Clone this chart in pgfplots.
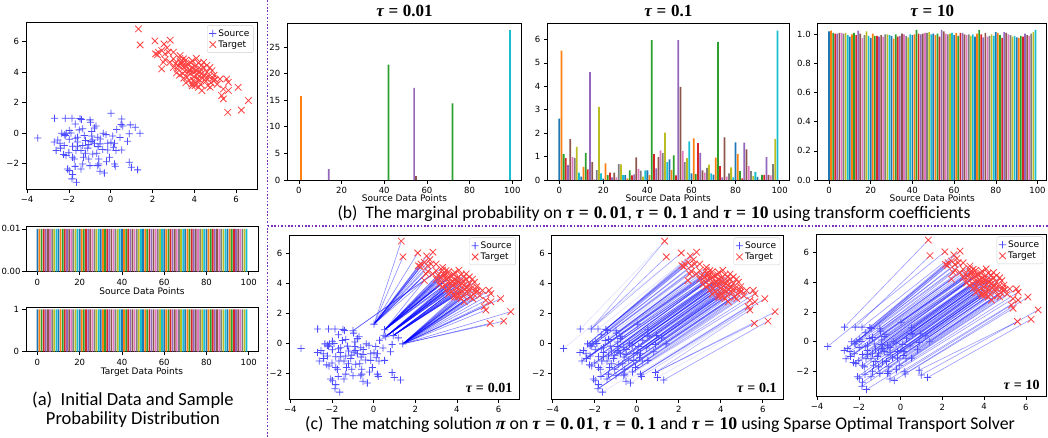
\documentclass[border=0pt]{standalone}
\usepackage{fontspec}
\setmainfont{DejaVu Sans}
\newfontfamily\capfont{Carlito}
\newfontfamily\serif{Liberation Serif}
\usepackage{pgfplots}
\usepackage{pgfplotstable}
\pgfplotsset{compat=1.18}

% matplotlib tab10
\definecolor{t0}{HTML}{1F77B4}
\definecolor{t1}{HTML}{FF7F0E}
\definecolor{t2}{HTML}{2CA02C}
\definecolor{t3}{HTML}{D62728}
\definecolor{t4}{HTML}{9467BD}
\definecolor{t5}{HTML}{8C564B}
\definecolor{t6}{HTML}{E377C2}
\definecolor{t7}{HTML}{7F7F7F}
\definecolor{t8}{HTML}{BCBD22}
\definecolor{t9}{HTML}{17BECF}
\definecolor{dotline}{HTML}{7B2FBE}
\definecolor{srcblue}{HTML}{4D4DFF}
\definecolor{tgtred}{HTML}{FF4040}

% filled plus / cross marks (two thin bars)
\pgfdeclareplotmark{fplus}{%
  \pgfpathrectangle{\pgfpoint{-\pgfplotmarksize}{-0.4pt}}{\pgfpoint{2\pgfplotmarksize}{0.8pt}}%
  \pgfpathrectangle{\pgfpoint{-0.4pt}{-\pgfplotmarksize}}{\pgfpoint{0.8pt}{2\pgfplotmarksize}}%
  \pgfusepathqfill}
\pgfdeclareplotmark{fcross}{%
  \pgftransformrotate{45}%
  \pgfpathrectangle{\pgfpoint{-\pgfplotmarksize}{-0.4pt}}{\pgfpoint{2\pgfplotmarksize}{0.8pt}}%
  \pgfpathrectangle{\pgfpoint{-0.4pt}{-\pgfplotmarksize}}{\pgfpoint{0.8pt}{2\pgfplotmarksize}}%
  \pgfusepathqfill}

\newcommand{\tk}{\fontsize{8.5}{10}\selectfont}
\newcommand{\lb}{\fontsize{9}{10}\selectfont}
\newcommand{\tq}[1]{{\serif\bfseries\itshape τ}\hspace{0.28em}{\serif\bfseries =}\hspace{0.28em}{\serif\bfseries #1}}

\pgfplotsset{
  pane/.style={scale only axis, anchor=south west,
    axis line style={line width=0.6pt}, tick align=outside,
    xtick pos=bottom, ytick pos=left, major tick length=3.5pt,
    tick style={black, line width=0.6pt},
    tick label style={font=\tk}, label style={font=\lb},
    scaled ticks=false},
  barx/.style={pane, xmin=-5.4, xmax=104.4, ymin=0,
    xtick={0,20,...,100}, xticklabels={0,20,40,60,80,100}},
  bars/.style={ybar, bar width=0.8, bar shift=0pt, draw=none},
  sc/.style={pane, xmin=-4.05, xmax=7.0, ymin=-3.72, ymax=7.25,
    xtick={-4,-2,...,6}, xticklabels={−4,−2,0,2,4,6},
    ytick={-2,0,...,6}, yticklabels={−2,0,2,4,6},
    legend cell align=left,
    legend style={at={(0.985,0.985)}, anchor=north east, draw=black!18,
      rounded corners=2pt, font=\lb, inner sep=2pt, row sep=-1pt}},
  src/.style={only marks, mark=fplus, mark size=3.6pt, color=srcblue,
    mark options={fill=srcblue, draw=none}},
  tgt/.style={only marks, mark=fcross, mark size=4.6pt, color=tgtred,
    mark options={fill=tgtred, draw=none}},
  link/.style={draw=blue, line width=0.6pt, opacity=#1, forget plot},
}

% one bar series per colour: column ck holds index 10j+k
\newcommand{\tenbars}[1]{%
  \addplot[bars,fill=t0] table[x expr=10*\thisrow{j},y=c0]{#1};
  \addplot[bars,fill=t1] table[x expr=10*\thisrow{j}+1,y=c1]{#1};
  \addplot[bars,fill=t2] table[x expr=10*\thisrow{j}+2,y=c2]{#1};
  \addplot[bars,fill=t3] table[x expr=10*\thisrow{j}+3,y=c3]{#1};
  \addplot[bars,fill=t4] table[x expr=10*\thisrow{j}+4,y=c4]{#1};
  \addplot[bars,fill=t5] table[x expr=10*\thisrow{j}+5,y=c5]{#1};
  \addplot[bars,fill=t6] table[x expr=10*\thisrow{j}+6,y=c6]{#1};
  \addplot[bars,fill=t7] table[x expr=10*\thisrow{j}+7,y=c7]{#1};
  \addplot[bars,fill=t8] table[x expr=10*\thisrow{j}+8,y=c8]{#1};
  \addplot[bars,fill=t9] table[x expr=10*\thisrow{j}+9,y=c9]{#1};
}

\begin{document}

% target point (tx,ty); its tau=10 partner (ax,ay); tau=0.01 source (bx,by); tau=0.1 main source (cx,cy)
\pgfplotstableread{
tx ty ax ay bx by cx cy
1.33 6.84 -2.69 0.97 0.02 1.30 -2.17 0.97
1.41 5.79 -2.17 0.97 0.02 1.30 -2.17 0.97
2.12 6.05 -3.49 -0.33 0.02 1.30 -2.17 0.97
2.55 5.85 -1.85 0.97 0.02 1.30 -1.47 0.95
2.85 6.10 -1.47 0.95 0.02 1.30 -1.47 0.95
2.28 5.31 -1.40 0.88 0.02 1.30 -1.47 0.95
2.15 5.20 -1.69 0.59 0.02 1.30 -2.34 -0.02
2.44 5.42 -2.34 -0.02 0.02 1.30 -2.34 -0.02
2.70 5.60 -1.98 0.16 0.02 1.30 -2.34 -0.02
2.24 5.13 -2.12 -0.02 0.02 1.30 -2.22 -0.11
2.60 5.20 -2.22 -0.11 0.02 1.30 -2.22 -0.11
2.76 5.31 -2.70 -0.60 0.02 1.30 -2.22 -0.11
3.00 5.31 -2.53 -0.46 0.02 1.30 -2.17 -0.17
2.60 4.82 -2.17 -0.17 0.02 1.30 -2.17 -0.17
2.52 4.65 -0.99 0.86 0.02 1.30 -2.17 -0.17
3.00 4.87 -1.90 0.00 0.02 1.30 -0.96 0.70
3.32 5.09 -0.96 0.70 -0.99 0.86 -0.96 0.70
2.84 4.65 -1.50 0.20 -0.99 0.86 -0.96 0.70
2.44 4.21 -2.42 -0.68 0.53 0.92 -1.34 0.27
3.30 4.90 -1.34 0.27 0.53 0.92 -1.34 0.27
3.10 4.55 -1.98 -0.41 0.53 0.92 -1.34 0.27
3.48 4.87 0.02 1.30 0.53 0.92 -2.61 -1.16
3.40 4.76 -2.61 -1.16 0.53 0.92 -2.61 -1.16
3.35 4.65 -1.69 -0.35 0.53 0.92 -2.61 -1.16
3.00 4.30 -2.22 -0.83 0.53 0.92 -2.40 -1.00
3.60 4.80 -2.40 -1.00 0.53 0.92 -2.40 -1.00
3.40 4.60 -1.58 -0.28 0.53 0.92 -2.40 -1.00
3.24 4.43 -0.70 0.46 0.53 0.92 -0.78 0.33
3.20 4.20 -0.78 0.33 0.53 0.92 -0.78 0.33
3.45 4.40 -1.26 -0.17 0.53 0.92 -0.78 0.33
3.90 4.75 -0.90 0.10 0.53 0.92 -1.60 -0.60
4.10 4.90 -1.60 -0.60 0.53 0.92 -1.60 -0.60
3.60 4.45 -1.82 -0.88 0.53 0.92 -1.60 -0.60
3.70 4.50 -2.25 -1.42 0.53 0.92 -0.90 -0.20
3.50 4.30 -0.90 -0.20 0.53 0.92 -0.90 -0.20
3.85 4.60 -1.20 -0.50 0.53 0.92 -0.90 -0.20
3.15 3.95 -1.58 -0.88 0.53 0.92 -2.00 -1.30
3.55 4.05 -2.00 -1.30 0.53 0.92 -2.00 -1.30
3.30 3.80 0.53 0.92 0.53 0.92 -2.00 -1.30
4.20 4.60 -2.14 -1.49 0.53 0.92 -1.34 -0.83
3.90 4.30 -1.34 -0.83 0.58 0.46 -1.34 -0.83
3.45 3.90 -1.66 -1.16 0.58 0.46 -1.34 -0.83
3.75 4.15 -0.86 -0.46 0.58 0.46 -0.35 -0.02
4.05 4.40 -0.35 -0.02 0.58 0.46 -0.35 -0.02
3.80 4.10 -0.62 -0.28 0.58 0.46 -0.35 -0.02
3.70 4.00 -0.94 -0.57 0.58 0.46 -1.05 -0.77
4.45 4.65 -1.05 -0.77 0.58 0.46 -1.05 -0.77
4.00 4.20 -1.42 -1.16 0.58 0.46 -1.05 -0.77
4.35 4.45 0.50 0.55 0.58 0.46 -0.22 -0.11
3.80 3.90 -0.22 -0.11 0.58 0.46 -0.22 -0.11
3.50 3.60 -0.50 -0.40 0.58 0.46 -0.22 -0.11
3.95 4.00 -1.82 -1.60 0.58 0.46 -0.78 -0.68
4.10 4.10 -0.78 -0.68 0.58 0.46 -0.78 -0.68
3.65 3.65 -1.10 -1.00 0.58 0.46 -0.78 -0.68
4.30 4.20 0.29 0.22 0.58 0.46 0.58 0.46
4.60 4.45 0.58 0.46 0.58 0.46 0.58 0.46
4.45 4.30 -1.74 -1.71 0.58 0.46 0.58 0.46
4.25 4.00 -1.21 -1.34 0.29 0.22 -0.51 -0.72
4.15 3.85 -0.51 -0.72 0.94 0.53 -0.51 -0.72
4.00 3.70 0.10 -0.20 0.94 0.53 -0.51 -0.72
3.75 3.45 0.94 0.53 0.94 0.53 -0.60 -0.90
3.60 3.30 -0.60 -0.90 0.94 0.53 -0.60 -0.90
4.75 4.30 -1.30 -1.60 0.94 0.53 -0.60 -0.90
4.35 3.90 -2.06 -2.37 0.94 0.53 -0.14 -0.68
3.95 3.45 -0.14 -0.68 0.94 0.53 -0.14 -0.68
4.60 4.00 -0.86 -1.38 0.94 0.53 -0.14 -0.68
4.15 3.55 0.02 -0.61 0.94 0.53 -1.70 -2.20
4.50 3.80 -1.70 -2.20 0.94 0.53 -1.70 -2.20
4.85 4.10 1.18 0.38 0.94 0.53 -1.70 -2.20
3.88 3.22 -1.98 -2.48 0.94 0.53 0.45 -0.30
4.25 3.50 0.45 -0.30 0.94 0.53 0.45 -0.30
4.05 3.30 -0.67 -1.34 0.94 0.53 0.45 -0.30
4.40 3.60 -0.38 -1.09 1.40 -0.02 -1.05 -1.71
3.90 3.10 -1.05 -1.71 1.40 -0.02 -1.05 -1.71
4.55 3.60 -1.34 -2.04 1.40 -0.02 -1.05 -1.71
4.70 3.70 0.18 -0.68 1.40 -0.02 0.89 -0.06
4.04 3.11 0.89 -0.06 1.40 -0.02 0.89 -0.06
4.95 3.80 -0.14 -1.12 1.40 -0.02 0.89 -0.06
4.30 3.20 0.13 -0.94 1.40 -0.02 -1.42 -2.37
4.55 3.40 -1.42 -2.37 1.40 -0.02 -1.42 -2.37
4.20 3.00 -1.82 -2.74 1.40 -0.02 -1.42 -2.37
4.90 3.60 -0.57 -1.71 1.40 -0.02 -0.99 -2.15
4.92 3.44 -0.99 -2.15 1.40 -0.02 -0.99 -2.15
5.00 3.50 1.40 -0.02 1.40 -0.02 -0.99 -2.15
4.80 3.30 0.81 -0.55 1.40 -0.02 -1.85 -3.02
4.65 3.10 -1.85 -3.02 1.40 -0.02 -1.85 -3.02
4.36 2.79 0.26 -1.16 1.40 -0.02 -1.85 -3.02
5.23 3.55 -0.57 -2.04 1.40 -0.02 -0.06 -1.60
4.76 3.00 -0.06 -1.60 1.40 -0.02 -0.06 -1.60
5.10 3.20 -0.62 -2.15 1.40 -0.02 -0.06 -1.60
5.55 3.55 0.53 -1.12 1.40 -0.02 -0.20 -1.90
5.63 3.33 -0.20 -1.90 1.40 -0.02 -0.20 -1.90
5.39 2.89 -1.63 -3.24 1.40 -0.02 -0.20 -1.90
5.63 2.79 -0.51 -2.52 1.40 -0.02 0.18 -2.04
5.31 2.46 0.18 -2.04 1.40 -0.02 0.18 -2.04
6.10 3.00 -0.30 -2.63 1.40 -0.02 0.18 -2.04
5.39 2.24 0.22 -2.19 1.40 -0.02 0.89 -1.93
5.60 1.35 0.89 -1.93 1.40 -0.02 0.89 -1.93
6.59 2.13 0.99 -2.26 1.40 -0.02 0.89 -1.93
6.25 1.50 1.29 -2.43 1.40 -0.02 1.29 -2.43
}\plan

\pgfplotstableread{
j c0 c1 c2 c3 c4 c5 c6 c7 c8 c9
0 .01 .01 .01 .01 .01 .01 .01 .01 .01 .01
1 .01 .01 .01 .01 .01 .01 .01 .01 .01 .01
2 .01 .01 .01 .01 .01 .01 .01 .01 .01 .01
3 .01 .01 .01 .01 .01 .01 .01 .01 .01 .01
4 .01 .01 .01 .01 .01 .01 .01 .01 .01 .01
5 .01 .01 .01 .01 .01 .01 .01 .01 .01 .01
6 .01 .01 .01 .01 .01 .01 .01 .01 .01 .01
7 .01 .01 .01 .01 .01 .01 .01 .01 .01 .01
8 .01 .01 .01 .01 .01 .01 .01 .01 .01 .01
9 .01 .01 .01 .01 .01 .01 .01 .01 .01 .01
}\srcmass

\pgfplotstableread{
j c0 c1 c2 c3 c4 c5 c6 c7 c8 c9
0 1 1 1 1 1 1 1 1 1 1
1 1 1 1 1 1 1 1 1 1 1
2 1 1 1 1 1 1 1 1 1 1
3 1 1 1 1 1 1 1 1 1 1
4 1 1 1 1 1 1 1 1 1 1
5 1 1 1 1 1 1 1 1 1 1
6 1 1 1 1 1 1 1 1 1 1
7 1 1 1 1 1 1 1 1 1 1
8 1 1 1 1 1 1 1 1 1 1
9 1 1 1 1 1 1 1 1 1 1
}\tgtmass

\pgfplotstableread{
j c0 c1 c2 c3 c4 c5 c6 c7 c8 c9
0 2.62 5.52 1.10 0.93 0.63 1.74 0.98 0.94 1.41 0.32
1 0.14 0.56 1.15 0.45 4.60 0.76 0.03 0.42 3.12 0.28
2 0.06 0.71 0.21 0.32 0.11 0.32 0.11 0.68 0.67 0.21
3 0.21 0.07 0.41 0.20 0.24 0.97 0.48 0.40 0.14 0.41
4 0.41 0.21 5.97 1.10 0.50 0.98 1.26 1.15 2.02 0.76
5 0.88 0.42 1.05 0.20 5.97 3.97 1.24 0.76 0.93 1.65
6 0.28 1.78 0.25 1.57 1.16 0.41 0.31 0.52 0.66 0.28
7 0.23 0.95 5.89 0.59 0.11 1.82 0.14 0.28 0.54 0.11
8 1.61 1.12 0.38 0.07 1.60 1.31 0.59 0.38 0.17 0.35
9 0.13 0.02 0.22 0.22 0.98 0.22 0.20 0.68 1.74 6.38
}\tauB

\pgfplotstableread{
j c0 c1 c2 c3 c4 c5 c6 c7 c8 c9
0 1.020 1.025 1.010 1.005 1.005 1.010 1.010 1.005 1.010 0.995
1 0.985 1.000 1.010 0.995 1.025 1.005 0.975 0.995 1.020 0.990
2 0.975 1.005 0.990 0.990 0.985 0.995 0.985 1.000 1.000 0.995
3 0.990 0.970 1.000 0.985 0.990 1.005 1.000 0.990 0.980 1.000
4 0.995 1.000 1.030 1.005 1.000 1.005 1.010 1.010 1.015 1.000
5 1.005 0.995 1.005 0.985 1.030 1.020 1.005 1.000 1.005 1.010
6 0.995 1.010 0.990 1.010 1.010 1.000 0.995 1.000 0.990 1.000
7 0.985 1.005 1.030 1.000 0.980 1.010 0.985 0.990 1.000 0.990
8 1.015 1.010 0.995 0.975 1.015 1.010 1.000 0.995 0.985 0.990
9 0.980 0.975 0.990 0.985 1.005 0.995 0.990 1.005 1.015 1.030
}\tauC

\begin{tikzpicture}
\useasboundingbox (0,0) rectangle (1048pt,437pt);

% ---- (a) initial data
\begin{axis}[sc, at={(26pt,247.5pt)}, width=231pt, height=166.8pt]
\addplot[src] table[x=ax,y=ay]{\plan}; \addlegendentry{Source}
\addplot[tgt] table[x=tx,y=ty]{\plan}; \addlegendentry{Target}
\end{axis}

\begin{axis}[barx, at={(26pt,165.3pt)}, width=232pt, height=45pt,
  ymax=0.0105, ytick={0,0.01}, yticklabels={0.00,0.01},
  yticklabel style={xshift=1.5pt},
  xlabel={Source Data Points}, xlabel style={yshift=4pt}]
\tenbars{\srcmass}
\end{axis}

\begin{axis}[barx, at={(26pt,85.3pt)}, width=232pt, height=44.4pt,
  ymax=1.05, ytick={0,1}, yticklabels={0,1},
  xlabel={Target Data Points}, xlabel style={yshift=4pt}]
\tenbars{\tgtmass}
\end{axis}

% ---- (b) marginals
\begin{axis}[barx, at={(287.3pt,257pt)}, width=234.4pt, height=157pt,
  ymax=29.5, ytick={0,5,...,25}, yticklabels={0,5,10,15,20,25},
  xlabel={Source Data Points}, xlabel style={yshift=6pt}, title={\tq{0.01}},
  title style={font=\fontsize{17}{18}\selectfont, yshift=-3pt}]
\addplot[bars,fill=t1] coordinates {(1,15.7)};
\addplot[bars,fill=t4] coordinates {(14,2.05) (54,17.3)};
\addplot[bars,fill=t2] coordinates {(42,21.7) (72,14.4)};
\addplot[bars,fill=t5] coordinates {(55,0.7)};
\addplot[bars,fill=t9] coordinates {(99,28.1)};
\end{axis}

\begin{axis}[barx, at={(547.3pt,257pt)}, width=242pt, height=157pt,
  ymax=6.7, ytick={0,1,...,6}, yticklabels={0,1,2,3,4,5,6},
  xlabel={Source Data Points}, xlabel style={yshift=6pt}, title={\tq{0.1}},
  title style={font=\fontsize{17}{18}\selectfont, yshift=-3pt}]
\tenbars{\tauB}
\end{axis}

\begin{axis}[barx, at={(817.7pt,257pt)}, width=229pt, height=157pt,
  ymax=1.078, ytick={0,0.2,...,1.0}, yticklabels={0.0,0.2,0.4,0.6,0.8,1.0},
  xlabel={Source Data Points}, xlabel style={yshift=6pt}, title={\tq{10}},
  title style={font=\fontsize{17}{18}\selectfont, yshift=-3pt}]
\tenbars{\tauC}
\end{axis}

% ---- (c) matchings
\begin{axis}[sc, at={(289.3pt,37.7pt)}, width=230pt, height=164.3pt]
\addplot[link=0.45, quiver={u=\thisrow{bx}-\thisrow{tx}, v=\thisrow{by}-\thisrow{ty}}] table[x=tx,y=ty]{\plan};
\addplot[src] table[x=ax,y=ay]{\plan}; \addlegendentry{Source}
\addplot[tgt] table[x=tx,y=ty]{\plan}; \addlegendentry{Target}
\node[anchor=south east, font=\fontsize{14}{15}\selectfont] at (rel axis cs:0.985,0.02) {\tq{0.01}};
\end{axis}

\begin{axis}[sc, at={(551.7pt,37.7pt)}, width=232pt, height=164.3pt]
\addplot[link=0.12, quiver={u=\thisrow{ax}-\thisrow{tx}, v=\thisrow{ay}-\thisrow{ty}}] table[x=tx,y=ty]{\plan};
\addplot[link=0.3, quiver={u=\thisrow{cx}-\thisrow{tx}, v=\thisrow{cy}-\thisrow{ty}}] table[x=tx,y=ty]{\plan};
\addplot[src] table[x=ax,y=ay]{\plan}; \addlegendentry{Source}
\addplot[tgt] table[x=tx,y=ty]{\plan}; \addlegendentry{Target}
\node[anchor=south east, font=\fontsize{14}{15}\selectfont] at (rel axis cs:0.985,0.02) {\tq{0.1}};
\end{axis}

\begin{axis}[sc, at={(816pt,40.3pt)}, width=230.7pt, height=162.7pt]
\addplot[link=0.4, quiver={u=\thisrow{ax}-\thisrow{tx}, v=\thisrow{ay}-\thisrow{ty}}] table[x=tx,y=ty]{\plan};
\addplot[src] table[x=ax,y=ay]{\plan}; \addlegendentry{Source}
\addplot[tgt] table[x=tx,y=ty]{\plan}; \addlegendentry{Target}
\node[anchor=south east, font=\fontsize{14}{15}\selectfont] at (rel axis cs:0.985,0.02) {\tq{10}};
\end{axis}

% ---- captions and separators
\node[font=\capfont\fontsize{18.5}{20}\selectfont] at (133pt,37pt) {(a)\ \ Initial Data and Sample};
\node[font=\capfont\fontsize{18.5}{20}\selectfont] at (133pt,17pt) {Probability Distribution};
\node[font=\capfont\fontsize{17.6}{19}\selectfont] at (654pt,223pt)
  {(b)\ \ The marginal probability on \tq{0.\,01}, \tq{0.\,1} and \tq{10} using transform coefficients};
\node[font=\capfont\fontsize{17.8}{19}\selectfont] at (660pt,12pt)
  {(c)\ \ The matching solution {\serif\bfseries\itshape π} on \tq{0.\,01}, \tq{0.\,1} and \tq{10} using Sparse Optimal Transport Solver};
\draw[dotline, line width=1.6pt, dash pattern=on 1.6pt off 1.8pt] (267.5pt,0pt) -- (267.5pt,437pt);
\draw[dotline, line width=1.6pt, dash pattern=on 1.6pt off 1.8pt] (267.5pt,211pt) -- (1048pt,211pt);
\end{tikzpicture}
\end{document}
